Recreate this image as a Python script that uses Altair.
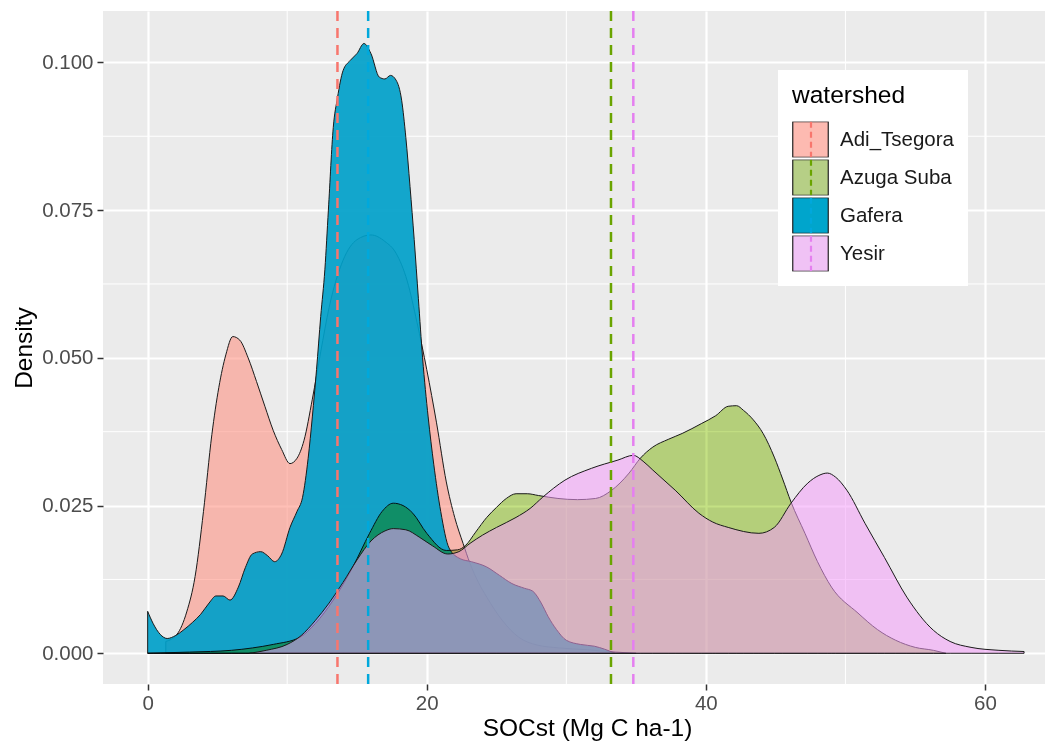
import altair as alt
import pandas as pd

CATS = ["Adi_Tsegora", "Azuga Suba", "Gafera", "Yesir"]
LINE_COLORS = ["#F8766D", "#6AA400", "#00A8DC", "#E57FF0"]
SWATCH_COLORS = ["#FDBAB1", "#B6CF86", "#00A5CC", "#F0C2F5"]
MEANS = [13.6, 33.2, 15.8, 34.8]

adi_x = [1.3, 2.1, 2.8, 3.4, 4.0, 4.6, 5.1, 5.6, 6.1, 6.6, 7.2, 7.8, 8.4, 9.0, 9.6, 10.2, 10.7,
         11.2, 11.8, 12.4, 13.0, 14.0, 15.0, 16.0, 17.0, 17.8, 18.6, 19.3, 20.0, 20.7, 21.4,
         22.0, 22.6, 23.1, 23.7, 24.3, 25.4, 26.6, 27.9, 29.5, 31.5, 33.5, 35.0]
adi_y = [0.0020, 0.0032, 0.0070, 0.0130, 0.0240, 0.0370, 0.0450, 0.0505, 0.0536, 0.0530, 0.0500,
         0.0460, 0.0418, 0.0377, 0.0345, 0.0321, 0.0330, 0.0360, 0.0430, 0.0510, 0.0585, 0.0665,
         0.0700, 0.0708, 0.0697, 0.0677, 0.0630, 0.0560, 0.0480, 0.0390, 0.0290, 0.0230, 0.0186,
         0.0152, 0.0120, 0.0095, 0.0056, 0.0027, 0.0014, 0.0009, 0.0006, 0.0002, 0.0]

gaf_x = [0.0, 0.4, 0.9, 1.4, 2.0, 2.6, 3.2, 3.8, 4.4, 4.9, 5.4, 5.9, 6.5, 7.0, 7.5, 8.1, 8.6,
         9.1, 9.6, 10.2, 10.7, 11.1, 11.5, 11.8, 12.1, 12.4, 12.7, 12.95, 13.3, 13.6, 14.0, 14.5,
         15.0, 15.5, 16.0, 16.6, 17.0, 17.4, 17.8, 18.2, 18.5, 18.8, 19.1, 19.4, 19.7, 20.1,
         20.5, 21.0, 21.6, 22.4, 23.2, 24.3, 25.2, 26.1, 27.0, 27.6, 28.2, 28.7, 29.3, 30.0,
         31.0, 32.0, 33.5]
gaf_y = [0.0071, 0.0050, 0.0032, 0.0025, 0.0030, 0.0040, 0.0052, 0.0066, 0.0085, 0.0097, 0.0097,
         0.0090, 0.0112, 0.0145, 0.0168, 0.0172, 0.0165, 0.0155, 0.0168, 0.0213, 0.0240, 0.0264,
         0.0330, 0.0400, 0.0480, 0.0570, 0.0650, 0.0750, 0.0890, 0.0940, 0.0986, 0.1003, 0.1015,
         0.1032, 0.1015, 0.0975, 0.0972, 0.0978, 0.0970, 0.0936, 0.0873, 0.0790, 0.0700, 0.0600,
         0.0500, 0.0400, 0.0320, 0.0240, 0.0178, 0.0160, 0.0155, 0.0146, 0.0132, 0.0118, 0.0110,
         0.0105, 0.0085, 0.0062, 0.0040, 0.0022, 0.0015, 0.0012, 0.0]

azu_x = [0.0, 3.0, 6.0, 7.5, 9.0, 10.9, 12.0, 13.3, 14.7, 15.9, 16.8, 17.6, 18.3, 19.0, 20.0,
         21.4, 22.2, 22.8, 23.5, 24.3, 25.0, 25.7, 26.4, 27.2, 28.0, 29.4, 30.8, 32.1, 33.2,
         34.5, 35.3, 36.2, 37.3, 38.3, 39.7, 40.7, 41.6, 42.2, 42.7, 43.4, 44.1, 44.9, 45.5,
         46.1, 47.1, 48.0, 49.0, 50.9, 52.3, 53.6, 55.0, 56.3, 57.2]
azu_y = [0.0, 0.0002, 0.0005, 0.0009, 0.0015, 0.0027, 0.0050, 0.0090, 0.0146, 0.0203, 0.0240,
         0.0254, 0.0250, 0.0237, 0.0203, 0.0174, 0.0175, 0.0183, 0.0205, 0.0230, 0.0247, 0.0262,
         0.0270, 0.0270, 0.0267, 0.0262, 0.0260, 0.0262, 0.0275, 0.0305, 0.0330, 0.0349, 0.0362,
         0.0372, 0.0389, 0.0402, 0.0418, 0.0419, 0.0411, 0.0395, 0.0372, 0.0332, 0.0295, 0.0256,
         0.0203, 0.0155, 0.0112, 0.0068, 0.0040, 0.0022, 0.0010, 0.0005, 0.0]

yes_x = [7.3, 8.5, 10.0, 11.0, 12.0, 13.0, 14.0, 15.0, 16.0, 17.0, 17.6, 18.5, 19.5, 20.4, 21.5,
         22.3, 23.1, 24.0, 25.0, 26.4, 27.4, 28.3, 29.9, 31.8, 33.7, 34.8, 35.5, 36.2, 37.0,
         37.8, 39.5, 40.5, 41.6, 43.8, 44.9, 46.1, 47.3, 48.1, 48.7, 49.3, 50.1, 51.4, 52.8,
         54.4, 56.3, 57.5, 59.0, 61.0, 62.8]
yes_y = [0.0, 0.0005, 0.0015, 0.0030, 0.0055, 0.0085, 0.0120, 0.0158, 0.0190, 0.0207, 0.0211,
         0.0209, 0.0196, 0.0182, 0.0168, 0.0172, 0.0186, 0.0200, 0.0213, 0.0230, 0.0245, 0.0264,
         0.0293, 0.0313, 0.0327, 0.0335, 0.0325, 0.0310, 0.0293, 0.0276, 0.0237, 0.0222, 0.0213,
         0.0203, 0.0213, 0.0254, 0.0288, 0.0301, 0.0305, 0.0298, 0.0276, 0.0220, 0.0162, 0.0095,
         0.0039, 0.0020, 0.0010, 0.0005, 0.0003]

x_ticks = [0, 20, 40, 60]
y_ticks = [0.0, 0.025, 0.05, 0.075, 0.1]
x_minor = [10, 30, 50]
y_minor = [0.0125, 0.0375, 0.0625, 0.0875]

FONT = "Liberation Sans"
XDOM = [-3.2, 64.3]
YDOM = [-0.0052, 0.1087]

xaxis = alt.Axis(values=x_ticks, grid=True, gridColor="white", gridWidth=2.2, domain=False,
                 tickColor="#333333", tickSize=6, tickWidth=1.5, labelFontSize=20.5,
                 labelColor="#4D4D4D", labelPadding=3, labelFont=FONT,
                 title="SOCst (Mg C ha-1)", titleFontSize=24.5, titleFontWeight="normal",
                 titleColor="black", titleFont=FONT, titleX=484, titleY=44,
                 titleBaseline="middle")
yaxis = alt.Axis(values=y_ticks, format=".3f", grid=True, gridColor="white", gridWidth=2.2,
                 domain=False, tickColor="#333333", tickSize=6, tickWidth=1.5,
                 labelFontSize=20.5, labelColor="#4D4D4D", labelPadding=4, labelFont=FONT,
                 title="Density", titleFontSize=24.5, titleFontWeight="normal",
                 titleColor="black", titleFont=FONT, titleX=-79, titleBaseline="middle")

X = lambda f: alt.X(f, scale=alt.Scale(domain=XDOM, nice=False, zero=False), axis=xaxis)
Y = lambda f: alt.Y(f, scale=alt.Scale(domain=YDOM, nice=False, zero=False), axis=yaxis)


def series(xs, ys):
    return pd.DataFrame({"x": xs, "y": ys})


def area(xs, ys, fill, opacity, blend=None):
    kw = dict(fill=fill, fillOpacity=opacity, stroke="#1a1a1a", strokeWidth=1,
              interpolate="monotone")
    if blend:
        kw["blend"] = blend
    return alt.Chart(series(xs, ys)).mark_area(**kw).encode(
        x=X("x:Q"), y=Y("y:Q"), y2=alt.datum(0))


vgrid = alt.Chart(pd.DataFrame({"v": x_minor})).mark_rule(color="white", strokeWidth=1).encode(
    x=X("v:Q"))
hgrid = alt.Chart(pd.DataFrame({"v": y_minor})).mark_rule(color="white", strokeWidth=1).encode(
    y=Y("v:Q"))

legend_common = dict(orient="none", legendX=675, legendY=59, title="watershed",
                     titleFontSize=24.5, titleFont=FONT, titleFontWeight="normal",
                     titleColor="black", titlePadding=13, labelFontSize=20.5, labelFont=FONT,
                     labelColor="#1a1a1a", symbolSize=1260, padding=14, rowPadding=2,
                     labelOffset=11, clipHeight=36)

leg_df = pd.DataFrame({"watershed": CATS})
fill_legend = alt.Chart(leg_df).transform_filter("false").mark_square(
    stroke="#222222", strokeWidth=1.2).encode(
    fill=alt.Fill("watershed:N", scale=alt.Scale(domain=CATS, range=SWATCH_COLORS),
                  legend=alt.Legend(symbolType="square", symbolStrokeColor="#222222",
                                    symbolStrokeWidth=1.2, symbolOpacity=1,
                                    fillColor="white", **legend_common)))

mean_df = pd.DataFrame({"watershed": CATS, "mean": MEANS})
rules = alt.Chart(mean_df).mark_rule(strokeDash=[10, 7], strokeWidth=2.5).encode(
    x=X("mean:Q"),
    stroke=alt.Stroke("watershed:N", scale=alt.Scale(domain=CATS, range=LINE_COLORS),
                      legend=alt.Legend(symbolType="M0,-1L0,1", symbolStrokeWidth=2.2,
                                        symbolDash=[6, 4], symbolFillColor="transparent",
                                        titleOpacity=0, labelOpacity=0, **legend_common)))

chart = alt.layer(
    fill_legend,
    vgrid, hgrid,
    area(adi_x, adi_y, "#FF8A7A", 0.55),
    area(gaf_x, gaf_y, "#009FC9", 0.92),
    area(azu_x, azu_y, "#C4E184", 1.0, blend="multiply"),
    area(yes_x, yes_y, "#F49DFA", 0.55),
    rules,
).resolve_scale(fill="independent", stroke="independent").properties(
    width=942, height=673,
    autosize=alt.AutoSizeParams(type="none"),
    padding={"left": 95, "top": 3, "right": 5, "bottom": 60},
).configure(font=FONT).configure_view(fill="#EBEBEB", strokeWidth=0)

chart.save("out.html", embed_options={"renderer": "svg", "actions": False})
